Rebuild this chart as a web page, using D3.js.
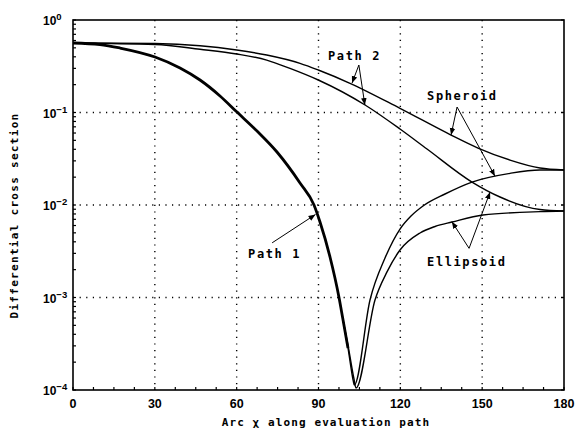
<!DOCTYPE html>
<html>
<head>
<meta charset="utf-8">
<script src="https://cdn.jsdelivr.net/npm/d3@7"></script>
<style>
  body { margin: 0; background: #fff; }
  text { fill: #000; }
</style>
</head>
<body>
<svg id="chart"></svg>
<script>
// values: arc (deg) and differential cross section
// path 1: shared descent of both shapes, then the two branches after the dip
const path1DownX = [0, 9.9, 17.23, 30.06, 39.23, 46.56, 53.89, 60.12, 67.45, 74.78, 83.22, 88.35, 90.55, 94.22, 97.52, 98.87, 100.81]
const path1DownY = [0.564, 0.543, 0.498, 0.398, 0.303, 0.2246, 0.151, 0.101, 0.0631, 0.0374, 0.0173, 0.01, 0.00655, 0.00274, 0.001, 0.0006, 0.000285]

const path1SpheroidX = [98.87, 100.81, 102.76, 103.12, 108.88, 114.38, 119.88, 123.91, 128.31, 136.38, 146.27, 160.2, 171.2, 180]
const path1SpheroidY = [0.0006, 0.000285, 0.000125, 0.000113, 0.00094, 0.00267, 0.0055, 0.0076, 0.00976, 0.01315, 0.0177, 0.022, 0.0239, 0.0239]

const path1EllipsoidX = [98.87, 101.0, 102.94, 103.75, 110.71, 115.11, 119.88, 127.21, 132.71, 138.94, 150.31, 171.2, 180]
const path1EllipsoidY = [0.0006, 0.000284, 0.000135, 0.000105, 0.00094, 0.00189, 0.00326, 0.00498, 0.00586, 0.00655, 0.0078, 0.00847, 0.0086]

const path2SpheroidX = [0, 30.06, 46.56, 60.01, 71.01, 83.22, 89.93, 101.55, 119.88, 138.58, 148.47, 160.2, 171.2, 180]
const path2SpheroidY = [0.564, 0.557, 0.527, 0.474, 0.418, 0.34, 0.288, 0.207, 0.111, 0.0571, 0.0413, 0.0306, 0.0251, 0.0239]

const path2EllipsoidX = [0, 30.06, 46.56, 60.01, 71.01, 79.55, 89.93, 107.07, 119.88, 129.78, 146.27, 156.54, 171.2, 180]
const path2EllipsoidY = [0.564, 0.543, 0.482, 0.429, 0.369, 0.3, 0.2246, 0.1205, 0.0663, 0.0403, 0.0177, 0.0122, 0.00894, 0.0086]

const xTicks = [0, 30, 60, 90, 120, 150, 180]
const yTicks = [1e-4, 1e-3, 1e-2, 1e-1, 1]
const yExponents = ['-4', '-3', '-2', '-1', '0']

// labels with arrows, in data coordinates
const notes = [
  { text: 'Path 2', at: [93.5, 0.37], from: [104.8, 0.326], tips: [[102.3, 0.208], [107.0, 0.1205]] },
  { text: 'Spheroid', at: [129.8, 0.137], from: [140.8, 0.1146], tips: [[138.6, 0.0572], [154.7, 0.0205]] },
  { text: 'Ellipsoid', at: [129.8, 0.0022], from: [145.2, 0.0034], tips: [[138.9, 0.0066], [152.9, 0.0138]] },
  { text: 'Path 1', at: [64.2, 0.00267], from: [73.0, 0.0039], tips: [[88.9, 0.0079]] }
]

const W = 580, H = 431
const margin = { top: 20, right: 16, bottom: 41, left: 73 }

const svg = d3.select('#chart').attr('width', W).attr('height', H)

const x = d3.scaleLinear().domain([0, 180]).range([margin.left, W - margin.right])
const y = d3.scaleLog().domain([1e-4, 1]).range([H - margin.bottom, margin.top])

// dotted grid
const grid = svg.append('g')
  .attr('stroke', '#000').attr('stroke-width', 1.4)
  .attr('stroke-dasharray', '1.2,5.4').attr('stroke-linecap', 'butt')
grid.selectAll('.gx').data(xTicks.slice(1, -1)).join('line')
  .attr('x1', d => x(d)).attr('x2', d => x(d))
  .attr('y1', y.range()[1]).attr('y2', y.range()[0])
grid.selectAll('.gy').data(yTicks.slice(1, -1)).join('line')
  .attr('y1', d => y(d)).attr('y2', d => y(d))
  .attr('x1', x.range()[0]).attr('x2', x.range()[1])

// inward ticks
const minorX = d3.range(0, 181, 7.5)
svg.append('g').attr('stroke', '#000').attr('stroke-width', 1.2)
  .selectAll('line').data(minorX).join('line')
  .attr('x1', d => x(d)).attr('x2', d => x(d))
  .attr('y1', y(1e-4)).attr('y2', y(1e-4) - 3)

const minorY = y.ticks()
svg.append('g').attr('stroke', '#000').attr('stroke-width', 1.2)
  .selectAll('line').data(minorY).join('line')
  .attr('x1', x(0)).attr('x2', x(0) + 3)
  .attr('y1', d => y(d)).attr('y2', d => y(d))

svg.append('g').attr('stroke', '#000').attr('stroke-width', 1.2)
  .selectAll('line').data(yTicks).join('line')
  .attr('x1', x(180)).attr('x2', x(180) - 3)
  .attr('y1', d => y(d)).attr('y2', d => y(d))

// frame
svg.append('rect')
  .attr('x', x(0)).attr('y', y(1))
  .attr('width', x(180) - x(0)).attr('height', y(1e-4) - y(1))
  .attr('fill', 'none').attr('stroke', '#000').attr('stroke-width', 1.6)

// curves
const line = d3.line().x(d => x(d[0])).y(d => y(d[1])).curve(d3.curveMonotoneX)
const series = [
  { xs: path2SpheroidX, ys: path2SpheroidY, w: 1.4 },
  { xs: path2EllipsoidX, ys: path2EllipsoidY, w: 1.4 },
  { xs: path1SpheroidX, ys: path1SpheroidY, w: 1.4 },
  { xs: path1EllipsoidX, ys: path1EllipsoidY, w: 1.4 },
  { xs: path1DownX, ys: path1DownY, w: 2.8 }
]
svg.append('g').selectAll('path').data(series).join('path')
  .attr('d', s => line(s.xs.map((v, i) => [v, s.ys[i]])))
  .attr('fill', 'none').attr('stroke', '#000')
  .attr('stroke-width', s => s.w).attr('stroke-linejoin', 'round')

// tick labels
svg.append('g').selectAll('text').data(xTicks).join('text')
  .attr('x', d => x(d)).attr('y', 408)
  .attr('text-anchor', 'middle')
  .style('font', 'bold 12.5px "Liberation Sans", Arial, sans-serif')
  .text(d => d)

const yl = svg.append('g').selectAll('text').data(yTicks).join('text')
  .attr('x', 43).attr('y', d => y(d) + 5)
  .style('font', 'bold 12px "Liberation Sans", Arial, sans-serif')
yl.append('tspan').text('10')
yl.append('tspan').attr('dy', -5).style('font-size', '9.5px')
  .text((d, i) => yExponents[i].replace('-', '\u2212'))

// axis titles
const titleFont = 'bold 11px "DejaVu Sans Mono", monospace'
svg.append('text')
  .attr('x', (222 + 430) / 2).attr('y', 426)
  .attr('text-anchor', 'middle')
  .style('font', titleFont).style('letter-spacing', '1.1px')
  .text('Arc \u03c7 along evaluation path')

svg.append('text')
  .attr('transform', `translate(18, ${(113 + 318) / 2}) rotate(-90)`)
  .attr('text-anchor', 'middle')
  .style('font', titleFont).style('letter-spacing', '1.3px')
  .text('Differential cross section')

// annotations
svg.append('defs').append('marker')
  .attr('id', 'head').attr('viewBox', '0 0 10 10')
  .attr('refX', 10).attr('refY', 5)
  .attr('markerWidth', 7).attr('markerHeight', 7)
  .attr('markerUnits', 'userSpaceOnUse')
  .attr('orient', 'auto')
  .append('path').attr('d', 'M0,1 L10,5 L0,9 Z').attr('fill', '#000')

const ann = svg.append('g')
notes.forEach(n => {
  ann.append('text')
    .attr('x', x(n.at[0])).attr('y', y(n.at[1]))
    .style('font', 'bold 12px "DejaVu Sans Mono", monospace')
    .style('letter-spacing', '1.6px')
    .text(n.text)
  n.tips.forEach(t => {
    ann.append('line')
      .attr('x1', x(n.from[0])).attr('y1', y(n.from[1]))
      .attr('x2', x(t[0])).attr('y2', y(t[1]))
      .attr('stroke', '#000').attr('stroke-width', 1)
      .attr('marker-end', 'url(#head)')
  })
})
</script>
</body>
</html>
